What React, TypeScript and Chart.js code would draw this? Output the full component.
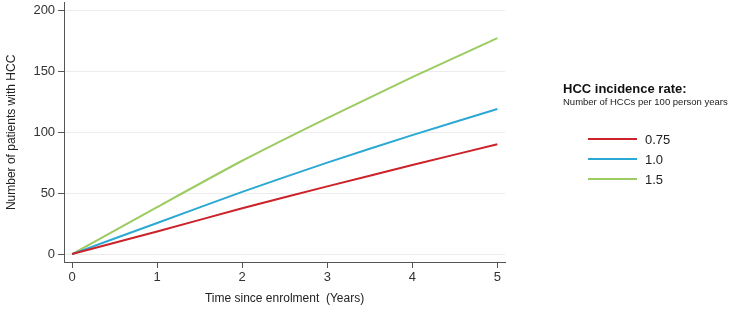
import React, { useEffect, useRef } from "react";
import { Chart, registerables } from "chart.js";

Chart.register(...registerables);

const years = [0, 1, 2, 3, 4, 5];
const rateLabels = ["0.75", "1.0", "1.5"];
const seriesRed = [0, 18.5, 37.5, 55.5, 73, 90];
const seriesBlue = [0, 25.5, 51, 75, 97.5, 119];
const seriesGreen = [0, 38.5, 76.5, 111.5, 145, 177];
const colors = ["#cc2229", "#2ca8d4", "#9ccb62"];
const xTicks = [0, 1, 2, 3, 4, 5];
const yTicks = [0, 50, 100, 150, 200];

const FONT = "'Liberation Sans', Arial, sans-serif";

export default function App() {
  const ref = useRef<HTMLCanvasElement>(null);

  useEffect(() => {
    document.body.style.margin = "0";
    const all = [seriesRed, seriesBlue, seriesGreen];
    const chart = new Chart(ref.current!, {
      type: "line",
      data: {
        datasets: all.map((s, i) => ({
          label: rateLabels[i],
          data: s.map((v, j) => ({ x: years[j], y: v })),
          borderColor: colors[i],
          backgroundColor: colors[i],
          borderWidth: 2,
          pointRadius: 0,
          tension: 0.2,
          fill: false,
        })),
      },
      options: {
        animation: false,
        responsive: false,
        maintainAspectRatio: false,
        layout: { padding: { top: 0, right: 227, left: 4, bottom: 1 } },
        plugins: { legend: { display: false }, tooltip: { enabled: false } },
        scales: {
          x: {
            type: "linear",
            min: -0.094,
            max: 5.09,
            afterBuildTicks: (scale: any) => {
              scale.ticks = xTicks.map((v) => ({ value: v }));
            },
            grid: {
              drawOnChartArea: false,
              drawTicks: true,
              tickLength: 6,
              tickColor: "#555",
            },
            border: { color: "#555", width: 1 },
            ticks: {
              color: "#333",
              font: { family: FONT, size: 13 },
              padding: 2,
              maxRotation: 0,
            },
            title: {
              display: true,
              text: "Time since enrolment  (Years)",
              color: "#222",
              font: { family: FONT, size: 12 },
              padding: { top: 4, bottom: 2 },
            },
          },
          y: {
            type: "linear",
            min: -6.5,
            max: 206,
            afterBuildTicks: (scale: any) => {
              scale.ticks = yTicks.map((v) => ({ value: v }));
            },
            grid: {
              color: "#ececec",
              lineWidth: 1,
              drawTicks: true,
              tickLength: 6,
              tickColor: "#555",
            },
            border: { color: "#555", width: 1 },
            ticks: {
              color: "#333",
              font: { family: FONT, size: 13 },
              padding: 3,
            },
            title: {
              display: true,
              text: "Number of patients with HCC",
              color: "#222",
              font: { family: FONT, size: 12 },
              padding: { top: 0, bottom: 12 },
            },
          },
        },
      },
    });
    return () => chart.destroy();
  }, []);

  return (
    <div style={{ position: "absolute", left: 0, top: 0, width: 732, height: 309, background: "#fff", fontFamily: FONT, overflow: "hidden" }}>
      <canvas ref={ref} width={732} height={317} style={{ display: "block", position: "absolute", left: 0, top: -8 }} />
      <div style={{ position: "absolute", left: 563, top: 81, fontWeight: "bold", fontSize: 13, color: "#111", whiteSpace: "nowrap" }}>
        HCC incidence rate:
      </div>
      <div style={{ position: "absolute", left: 563, top: 96, fontSize: 9.5, color: "#222", whiteSpace: "nowrap" }}>
        Number of HCCs per 100 person years
      </div>
      {rateLabels.map((lab, i) => (
        <div key={lab} style={{ position: "absolute", left: 588, top: 131 + i * 20, height: 16, display: "flex", alignItems: "center", whiteSpace: "nowrap" }}>
          <div style={{ width: 49, height: 2, background: colors[i] }} />
          <span style={{ marginLeft: 8, fontSize: 13, color: "#222" }}>{lab}</span>
        </div>
      ))}
    </div>
  );
}
